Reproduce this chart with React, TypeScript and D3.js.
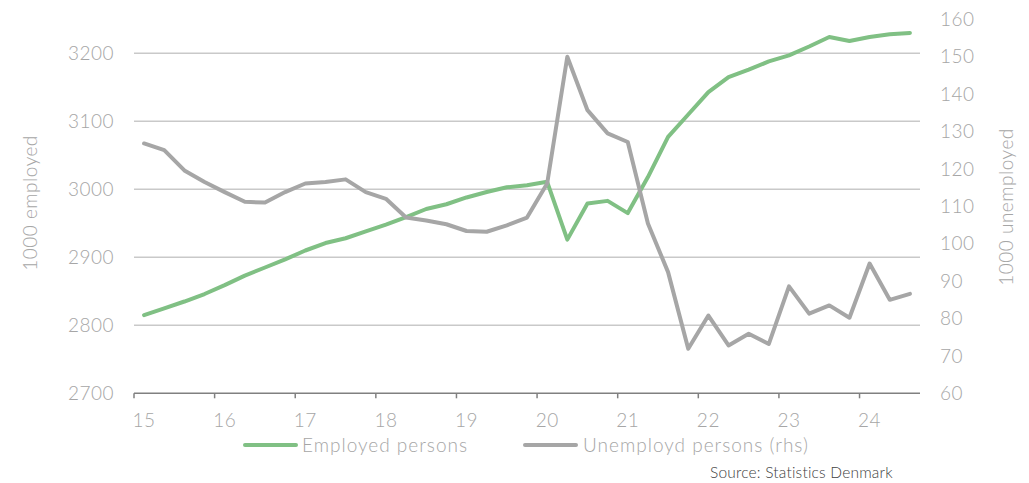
import React from "react";
import * as d3 from "d3";

const years = ["15", "16", "17", "18", "19", "20", "21", "22", "23", "24"];
const quarters: string[] = [];
for (let y = 2015; y <= 2024; y++) for (let q = 1; q <= 4; q++) quarters.push(`${y}Q${q}`);
const categories = quarters.slice(0, 39);

const employed = [
  2815, 2825, 2835, 2846, 2859, 2873, 2885, 2897, 2910, 2921, 2928, 2938, 2948,
  2959, 2971, 2978, 2988, 2996, 3003, 3006, 3011, 2926, 2979, 2983, 2965, 3018,
  3077, 3110, 3143, 3165, 3176, 3188, 3197, 3210, 3224, 3218, 3224, 3228, 3230,
];
const unemployed = [
  126.8, 125, 119.6, 116.5, 113.8, 111.2, 111, 113.8, 116.1, 116.5, 117.2, 113.8, 112,
  107, 106.2, 105.2, 103.4, 103.2, 104.9, 107, 116.1, 150, 135.7, 129.5, 127.2, 105.4,
  92.4, 71.9, 80.8, 72.8, 75.9, 73.2, 88.6, 81.3, 83.5, 80.2, 94.7, 85, 86.6,
];
const leftTicks = [2700, 2800, 2900, 3000, 3100, 3200];
const rightTicks = [60, 70, 80, 90, 100, 110, 120, 130, 140, 150, 160];

const W = 1029;
const H = 483;
const M = { left: 134, right: 920, top: 19.3, bottom: 393.3 };
const GREEN = "#80c084";
const GRAY = "#a6a6a6";
const TEXT = "#a6a6a6";
const FONT = "Lato, 'Open Sans', sans-serif";

export default function App() {
  const x = d3.scaleBand<string>().domain(categories).range([M.left, M.right]);
  const yL = d3.scaleLinear().domain([2700, 3250]).range([M.bottom, M.top]);
  const yR = d3.scaleLinear().domain([60, 160]).range([M.bottom, M.top]);
  const cx = (i: number) => (x(categories[i]) as number) + x.bandwidth() / 2;

  const lineL = d3.line<number>().x((_, i) => cx(i)).y((d) => yL(d));
  const lineR = d3.line<number>().x((_, i) => cx(i)).y((d) => yR(d));

  const yearTickIdx = years.map((_, k) => k * 4);
  const tickStyle = { fontSize: 19, fontWeight: 300, fill: TEXT, letterSpacing: 0.5 } as const;

  return (
    <svg width={W} height={H} style={{ position: "absolute", left: 0, top: 0 }} fontFamily={FONT}>
      <rect width={W} height={H} fill="#fff" />
      {leftTicks.slice(1).map((t) => (
        <line key={t} x1={M.left} x2={M.right} y1={yL(t)} y2={yL(t)} stroke="#c9c9c9" strokeWidth={1.5} />
      ))}
      {leftTicks.map((t) => (
        <text key={t} x={114} y={yL(t)} dy="0.35em" textAnchor="end" {...tickStyle}>
          {t}
        </text>
      ))}
      {rightTicks.map((t) => (
        <text key={t} x={940} y={yR(t)} dy="0.35em" textAnchor="start" {...tickStyle}>
          {t}
        </text>
      ))}
      <line x1={M.left} x2={M.right} y1={M.bottom} y2={M.bottom} stroke="#808080" strokeWidth={1.5} />
      {yearTickIdx.map((i) => (
        <line key={i} x1={x(categories[i]) as number} x2={x(categories[i]) as number} y1={M.bottom} y2={M.bottom + 5} stroke="#808080" strokeWidth={1.5} />
      ))}
      {years.map((lab, k) => (
        <text key={lab} x={cx(k * 4)} y={420} dy="0.35em" textAnchor="middle" {...tickStyle}>
          {lab}
        </text>
      ))}
      <path d={lineL(employed) || ""} fill="none" stroke={GREEN} strokeWidth={4} strokeLinejoin="round" strokeLinecap="round" />
      <path d={lineR(unemployed) || ""} fill="none" stroke={GRAY} strokeWidth={4} strokeLinejoin="round" strokeLinecap="round" />
      <text transform={`translate(30,203) rotate(-90)`} textAnchor="middle" dy="0.35em" {...tickStyle}>
        1000 employed
      </text>
      <text transform={`translate(1006,207) rotate(-90)`} textAnchor="middle" dy="0.35em" {...tickStyle}>
        1000 unemployed
      </text>
      <line x1={245} x2={296} y1={445} y2={445} stroke={GREEN} strokeWidth={4} strokeLinecap="round" />
      <text x={302} y={445} dy="0.35em" fontSize={19} fontWeight={300} fill={TEXT} letterSpacing={1}>Employed persons</text>
      <line x1={525} x2={576} y1={445} y2={445} stroke={GRAY} strokeWidth={4} strokeLinecap="round" />
      <text x={583} y={445} dy="0.35em" fontSize={19} fontWeight={300} fill={TEXT} letterSpacing={1}>Unemployd persons (rhs)</text>
      <text x={710} y={473} dy="0.35em" fontSize={15.5} fontWeight={300} fill="#404040" letterSpacing={0.2}>Source: Statistics Denmark</text>
    </svg>
  );
}
